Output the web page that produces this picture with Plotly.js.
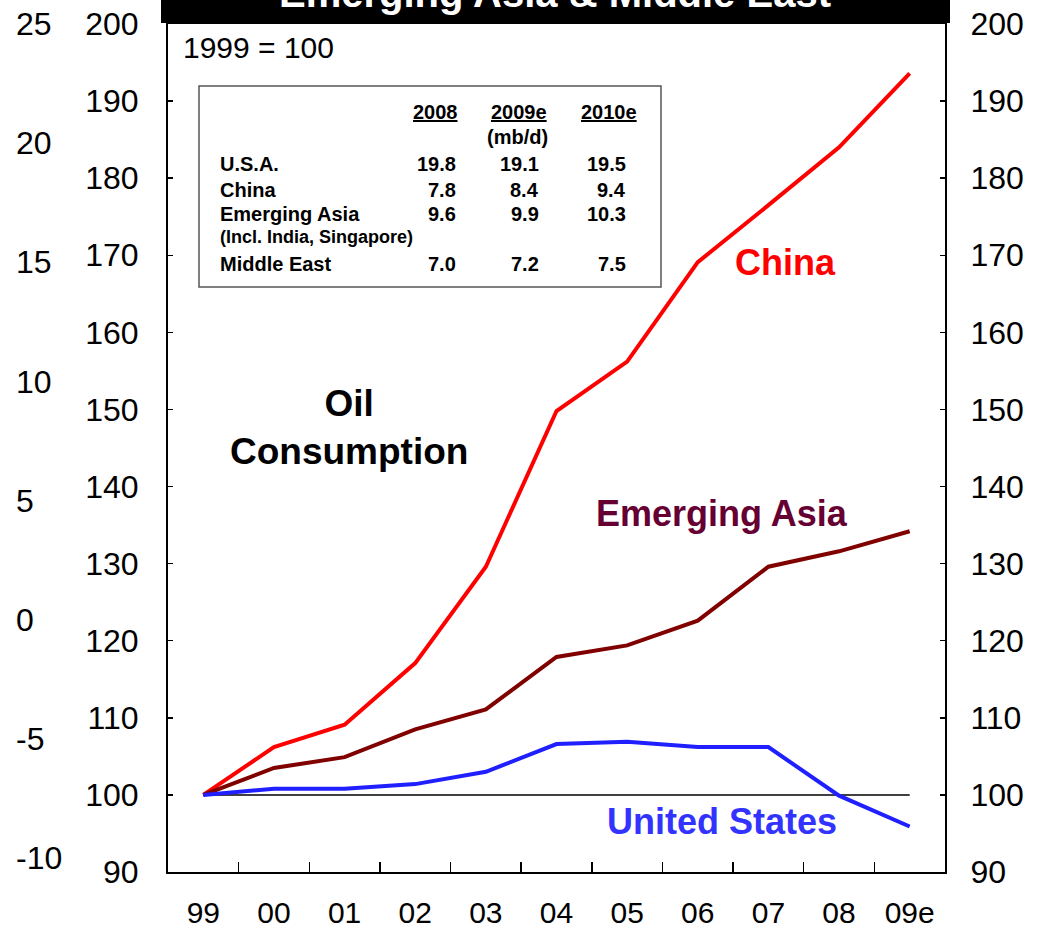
<!DOCTYPE html>
<html>
<head>
<meta charset="utf-8">
<script src="https://cdn.plot.ly/plotly-3.0.1.min.js"></script>
<style>html,body{margin:0;padding:0;background:#fff;}#chart{width:1045px;height:933px;}</style>
</head>
<body>
<div id="chart"></div>
<script>
// ---- data ----
const years = ['99','00','01','02','03','04','05','06','07','08','09e'];
const china = [100, 106.2, 109.1, 117.1, 129.6, 149.8, 156.2, 169.1, 176.5, 184.0, 193.6];
const emergingAsia = [100, 103.5, 104.9, 108.5, 111.1, 117.9, 119.4, 122.6, 129.6, 131.6, 134.2];
const unitedStates = [100, 100.8, 100.8, 101.4, 103.0, 106.6, 106.9, 106.2, 106.2, 99.9, 95.9];
const baseValue = 100;
const indexRange = [90, 200];
const outerRange = [-10.6, 25];
const outerTicks = [-10, -5, 0, 5, 10, 15, 20, 25];

const tableHeaders = ['2008', '2009e', '2010e'];
const tableUnit = '(mb/d)';
const tableRows = ['U.S.A.', 'China', 'Emerging Asia', 'Middle East'];
const tableSub = ['', '', '(Incl. India, Singapore)', ''];
const val2008 = [19.8, 7.8, 9.6, 7.0];
const val2009e = [19.1, 8.4, 9.9, 7.2];
const val2010e = [19.5, 9.4, 10.3, 7.5];

const chartTitle = 'Emerging Asia & Middle East';
const baseNote = '1999 = 100';
const centerNote = 'Oil<br>Consumption';

// ---- layout helpers (pixel -> paper) ----
const W = 1045, H = 933, ML = 0, MR = 100, MT = 24, MB = 61;
const PW = W - ML - MR, PH = H - MT - MB;
const px = x => (x - ML) / PW;
const py = y => (H - MB - y) / PH;
const FONT = 'Liberation Sans, Arial, Helvetica, sans-serif';

const traces = [
  {x: years, y: china, type: 'scatter', mode: 'lines', name: 'China',
   line: {color: '#ff0000', width: 4}, hoverinfo: 'x+y'},
  {x: years, y: emergingAsia, type: 'scatter', mode: 'lines', name: 'Emerging Asia',
   line: {color: '#800000', width: 4}, hoverinfo: 'x+y'},
  {x: years, y: unitedStates, type: 'scatter', mode: 'lines', name: 'United States',
   line: {color: '#1f1fff', width: 4}, hoverinfo: 'x+y'},
  {x: [], y: [], yaxis: 'y2', type: 'scatter', showlegend: false, hoverinfo: 'skip'},
  {x: [], y: [], yaxis: 'y3', type: 'scatter', showlegend: false, hoverinfo: 'skip'}
];

const annotations = [];
function ann(text, x, y, opts) {
  annotations.push(Object.assign({text: text, x: px(x), y: py(y), xref: 'paper', yref: 'paper',
    showarrow: false, xanchor: 'center', yanchor: 'middle',
    font: {family: FONT, size: 20, color: '#000'}}, opts || {}));
}
// title (clipped at top, like the original)
ann('<b>' + chartTitle + '</b>', 555, 17, {yanchor: 'bottom', font: {family: FONT, size: 40, color: '#fff'}});
ann(baseNote, 181, 47, {xanchor: 'left', font: {family: FONT, size: 30, color: '#000'}});
ann('<b>' + centerNote + '</b>', 349, 427, {font: {family: FONT, size: 37, color: '#000'}});
ann('<b>China</b>', 785, 262, {font: {family: FONT, size: 36, color: '#ff0000'}});
ann('<b>Emerging Asia</b>', 722, 513, {font: {family: FONT, size: 36, color: '#660033'}});
ann('<b>United States</b>', 722, 821, {font: {family: FONT, size: 36, color: '#3333ff'}});

// table
const colRight = [458, 541, 628];
const colCenter = [435, 519, 609];
tableHeaders.forEach((h, i) => ann('<b><u>' + h + '</u></b>', colCenter[i], 112));
ann('<b>' + tableUnit + '</b>', 517, 137);
const rowY = [164, 190, 214, 264];
const cols = [val2008, val2009e, val2010e];
tableRows.forEach((r, j) => {
  ann('<b>' + r + '</b>', 218, rowY[j], {xanchor: 'left'});
  cols.forEach((c, i) => ann('<b>' + c[j].toFixed(1) + '</b>', colRight[i], rowY[j], {xanchor: 'right'}));
  if (tableSub[j]) ann('<b>' + tableSub[j] + '</b>', 218, rowY[j] + 23, {xanchor: 'left', font: {family: FONT, size: 18, color: '#000'}});
});

const shapes = [
  {type: 'rect', xref: 'paper', yref: 'paper', x0: px(161), x1: px(950), y0: py(23), y1: py(-5),
   fillcolor: '#000', line: {width: 0}, layer: 'above'},
  {type: 'rect', xref: 'paper', yref: 'paper', x0: px(199), x1: px(661), y0: py(287), y1: py(86),
   fillcolor: 'rgba(0,0,0,0)', line: {color: '#555', width: 1.5}, layer: 'above'},
  {type: 'line', xref: 'x', yref: 'y', x0: 0, x1: years.length - 1, y0: baseValue, y1: baseValue,
   line: {color: '#000', width: 1.5}, layer: 'below'}
];

const tickFont = {family: FONT, size: 32, color: '#000'};
const layout = {
  width: W, height: H,
  margin: {l: ML, r: MR, t: MT, b: MB, pad: 0},
  paper_bgcolor: '#fff', plot_bgcolor: '#fff',
  showlegend: false,
  xaxis: {type: 'category', domain: [px(168), 1], range: [-0.5, years.length - 0.5],
    tickson: 'boundaries', ticks: 'inside', ticklen: 10, tickwidth: 1.5, tickcolor: '#000',
    showline: true, linecolor: '#000', linewidth: 2, mirror: true,
    showgrid: false, zeroline: false, fixedrange: true,
    tickfont: {family: FONT, size: 30, color: '#000'}, ticklabelstandoff: 13},
  yaxis: {range: indexRange, dtick: 10, ticks: 'inside', ticklen: 5, tickwidth: 1.5, tickcolor: '#000',
    showline: true, linecolor: '#000', linewidth: 2, showgrid: false, zeroline: false,
    tickfont: tickFont, ticklabelstandoff: 21, fixedrange: true},
  yaxis2: {range: indexRange, dtick: 10, overlaying: 'y', side: 'right', anchor: 'x',
    ticks: 'inside', ticklen: 5, tickwidth: 1.5, tickcolor: '#000',
    showline: true, linecolor: '#000', linewidth: 2, showgrid: false, zeroline: false,
    tickfont: tickFont, ticklabelstandoff: 17, fixedrange: true},
  yaxis3: {range: outerRange, tickmode: 'array', tickvals: outerTicks, ticktext: outerTicks.map(String),
    overlaying: 'y', side: 'right', anchor: 'free', position: 0,
    ticks: '', showline: false, showgrid: false, zeroline: false,
    tickfont: tickFont, ticklabelstandoff: 15, fixedrange: true},
  shapes: shapes,
  annotations: annotations
};

Plotly.newPlot('chart', traces, layout, {displayModeBar: false, staticPlot: true});
</script>
</body>
</html>
